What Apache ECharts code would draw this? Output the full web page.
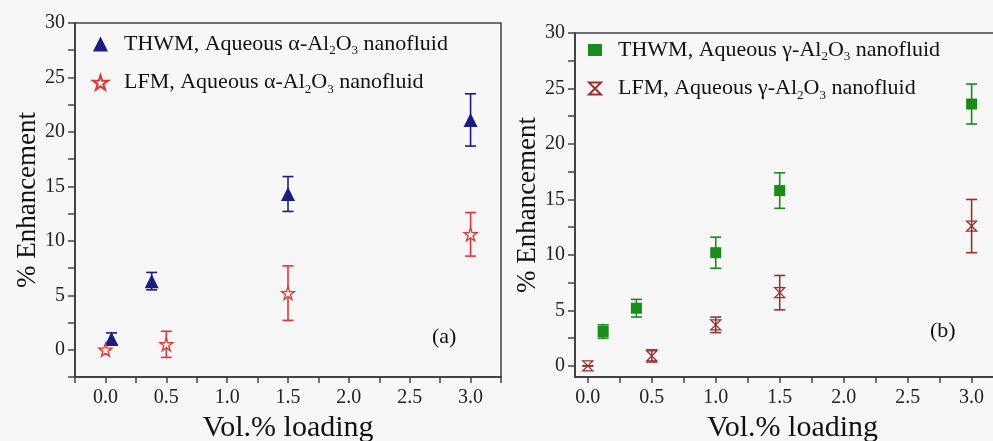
<!DOCTYPE html>
<html>
<head>
<meta charset="utf-8">
<script src="https://cdn.jsdelivr.net/npm/echarts@6/dist/echarts.min.js"></script>
<style>
  html, body { margin: 0; padding: 0; background: #f7f7f7; }
  #chart { width: 993px; height: 441px; }
</style>
</head>
<body>
<div id="chart"></div>
<script>
// panel (a): alpha-Al2O3
var thwmA_x = [0.05, 0.38, 1.5, 3.0];
var thwmA_y = [1.0, 6.3, 14.3, 21.1];
var thwmA_err = [0.55, 0.8, 1.6, 2.4];
var lfmA_x = [0.0, 0.5, 1.5, 3.0];
var lfmA_y = [0.0, 0.5, 5.2, 10.6];
var lfmA_err = [0.0, 1.2, 2.5, 2.0];

// panel (b): gamma-Al2O3
var thwmB_x = [0.12, 0.38, 1.0, 1.5, 3.0];
var thwmB_y = [3.1, 5.2, 10.2, 15.8, 23.6];
var thwmB_err = [0.6, 0.8, 1.4, 1.6, 1.8];
var lfmB_x = [0.0, 0.5, 1.0, 1.5, 3.0];
var lfmB_y = [0.0, 0.9, 3.7, 6.6, 12.6];
var lfmB_err = [0.0, 0.55, 0.7, 1.55, 2.4];

var xTicks = [-0.25, 0, 0.25, 0.5, 0.75, 1, 1.25, 1.5, 1.75, 2, 2.25, 2.5, 2.75, 3, 3.25];
var xLabels = [0, 0.5, 1, 1.5, 2, 2.5, 3];
var yTicksA = [-2.5, 0, 2.5, 5, 7.5, 10, 12.5, 15, 17.5, 20, 22.5, 25, 27.5, 30];
var yTicksB = [0, 2.5, 5, 7.5, 10, 12.5, 15, 17.5, 20, 22.5, 25, 27.5, 30];
var yLabels = [0, 5, 10, 15, 20, 25, 30];

var names = [
  'THWM, Aqueous α-Al2O3 nanofluid',
  'LFM, Aqueous α-Al2O3 nanofluid',
  'THWM, Aqueous γ-Al2O3 nanofluid',
  'LFM, Aqueous γ-Al2O3 nanofluid'
];

var SERIF = 'Liberation Serif';
var STAR = 'path://M50,2 L61,36 L97,36 L68,57 L79,92 L50,71 L21,92 L32,57 L3,36 L39,36 Z';
var HOURGLASS = 'path://M0,0 L10,0 L0,10 L10,10 Z';

function pts(xs, ys) {
  return xs.map(function (x, i) { return [x, ys[i]]; });
}
function bars(xs, ys, es) {
  return xs.map(function (x, i) { return [x, ys[i] - es[i], ys[i] + es[i]]; });
}

function errRender(params, api) {
  var x = api.value(0);
  var top = api.coord([x, api.value(2)]);
  var bot = api.coord([x, api.value(1)]);
  var c = api.visual('color');
  var w = 5.5;
  var st = { stroke: c, lineWidth: 1.6 };
  return {
    type: 'group',
    children: [
      { type: 'line', shape: { x1: top[0], y1: top[1], x2: bot[0], y2: bot[1] }, style: st },
      { type: 'line', shape: { x1: top[0] - w, y1: top[1], x2: top[0] + w, y2: top[1] }, style: st },
      { type: 'line', shape: { x1: bot[0] - w, y1: bot[1], x2: bot[0] + w, y2: bot[1] }, style: st }
    ]
  };
}

function legendText(name) {
  var m = name.match(/^(.*Al)2O3( nanofluid)$/);
  return '{g| }{t|' + m[1] + '}{s|2}{t|O}{s|3}{t|' + m[2] + '}';
}
var legendRich = {
  g: { width: 11 },
  t: { fontFamily: SERIF, fontSize: 22, color: '#111' },
  s: { fontFamily: SERIF, fontSize: 13, color: '#111', padding: [14, 0, 0, 0] }
};

function xAxis(idx, min, max) {
  return {
    gridIndex: idx, type: 'value', min: min, max: max,
    name: 'Vol.% loading', nameLocation: 'middle', nameGap: 36,
    nameTextStyle: { fontFamily: SERIF, fontSize: 30, color: '#111' },
    axisLine: { onZero: false, lineStyle: { color: '#444', width: 2 } },
    axisTick: { show: true, customValues: xTicks, length: 6, lineStyle: { color: '#444', width: 1.5 } },
    axisLabel: {
      customValues: xLabels, margin: 11, fontFamily: SERIF, fontSize: 20, color: '#222',
      formatter: function (v) { return v.toFixed(1); }
    },
    splitLine: { show: false }
  };
}
function yAxis(idx, min, ticks) {
  return {
    gridIndex: idx, type: 'value', min: min, max: 30,
    name: '% Enhancement', nameLocation: 'middle', nameGap: 34,
    nameTextStyle: { fontFamily: SERIF, fontSize: 27, color: '#111' },
    axisLine: { onZero: false, lineStyle: { color: '#444', width: 2 } },
    axisTick: { show: true, customValues: ticks, length: 7, lineStyle: { color: '#444', width: 1.5 } },
    axisLabel: { customValues: yLabels, margin: 10, fontFamily: SERIF, fontSize: 20, color: '#222' },
    splitLine: { show: false }
  };
}

var chart = echarts.init(document.getElementById('chart'));
chart.setOption({
  backgroundColor: '#f7f7f7',
  animation: false,
  grid: [
    { left: 75, top: 23, width: 426, height: 354, outerBoundsMode: 'none', containLabel: false,
      show: true, borderColor: '#444', borderWidth: 1.5 },
    { left: 575, top: 33, width: 435, height: 344, outerBoundsMode: 'none', containLabel: false,
      show: true, borderColor: '#444', borderWidth: 1.5 }
  ],
  xAxis: [xAxis(0, -0.25, 3.25), xAxis(1, -0.1, 3.3)],
  yAxis: [yAxis(0, -2.5, yTicksA), yAxis(1, -1, yTicksB)],
  legend: [
    {
      data: [names[0], names[1]], orient: 'vertical', left: 87, top: 28,
      itemWidth: 15, itemHeight: 15, itemGap: 14,
      formatter: legendText, textStyle: { rich: legendRich }
    },
    {
      data: [names[2], names[3]], orient: 'vertical', left: 583, top: 34,
      itemWidth: 14, itemHeight: 12, itemGap: 14,
      formatter: legendText, textStyle: { rich: legendRich }
    }
  ],
  graphic: [
    { type: 'text', left: 432, top: 326, style: { text: '(a)', fontFamily: SERIF, fontSize: 22, fill: '#111' } },
    { type: 'text', left: 930, top: 320, style: { text: '(b)', fontFamily: SERIF, fontSize: 22, fill: '#111' } }
  ],
  series: [
    { type: 'custom', xAxisIndex: 0, yAxisIndex: 0, renderItem: errRender, itemStyle: { color: '#1b1b85' },
      data: bars(thwmA_x, thwmA_y, thwmA_err), z: 2 },
    { type: 'custom', xAxisIndex: 0, yAxisIndex: 0, renderItem: errRender, itemStyle: { color: '#ee3030' },
      data: bars(lfmA_x, lfmA_y, lfmA_err), z: 2 },
    { type: 'custom', xAxisIndex: 1, yAxisIndex: 1, renderItem: errRender, itemStyle: { color: '#1a8c1a' },
      data: bars(thwmB_x, thwmB_y, thwmB_err), z: 2 },
    { type: 'custom', xAxisIndex: 1, yAxisIndex: 1, renderItem: errRender, itemStyle: { color: '#9a3030' },
      data: bars(lfmB_x, lfmB_y, lfmB_err), z: 2 },
    { name: names[0], type: 'scatter', xAxisIndex: 0, yAxisIndex: 0, symbol: 'triangle', symbolSize: 14,
      itemStyle: { color: '#1b1b85', opacity: 1 }, data: pts(thwmA_x, thwmA_y), z: 3 },
    { name: names[1], type: 'scatter', xAxisIndex: 0, yAxisIndex: 0, symbol: STAR, symbolSize: 13,
      itemStyle: { color: '#f7f7f7', borderColor: '#ee3030', borderWidth: 1.3, opacity: 1 },
      data: pts(lfmA_x, lfmA_y), z: 3 },
    { name: names[2], type: 'scatter', xAxisIndex: 1, yAxisIndex: 1, symbol: 'rect', symbolSize: 11,
      itemStyle: { color: '#1a8c1a', opacity: 1 }, data: pts(thwmB_x, thwmB_y), z: 3 },
    { name: names[3], type: 'scatter', xAxisIndex: 1, yAxisIndex: 1, symbol: HOURGLASS, symbolSize: 10,
      itemStyle: { color: 'rgba(0,0,0,0)', borderColor: '#9a3030', borderWidth: 1.3, opacity: 1 },
      data: pts(lfmB_x, lfmB_y), z: 3 }
  ]
});
</script>
</body>
</html>
